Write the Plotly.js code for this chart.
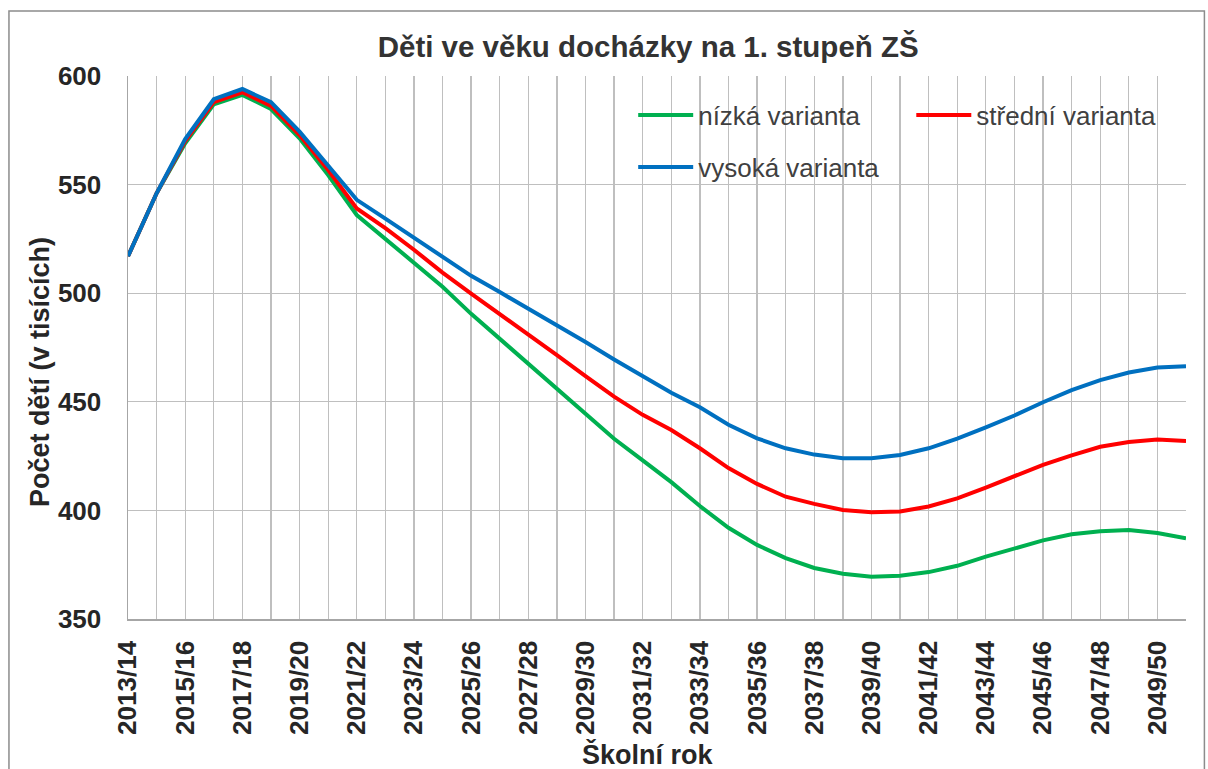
<!DOCTYPE html>
<html>
<head>
<meta charset="utf-8">
<script src="https://cdn.plot.ly/plotly-3.0.1.min.js"></script>
<style>
html,body{margin:0;padding:0;background:#fff;}
#chart{width:1208px;height:769px;}
</style>
</head>
<body>
<div id="chart"></div>
<script>
const categories = ["2013/14","2014/15","2015/16","2016/17","2017/18","2018/19","2019/20","2020/21","2021/22","2022/23","2023/24","2024/25","2025/26","2026/27","2027/28","2028/29","2029/30","2030/31","2031/32","2032/33","2033/34","2034/35","2035/36","2036/37","2037/38","2038/39","2039/40","2040/41","2041/42","2042/43","2043/44","2044/45","2045/46","2046/47","2047/48","2048/49","2049/50","2050/51"];

const nizka = [517,546,569,587,591.3,584.8,571.3,554.4,536,525,514,503,490.5,479,467.5,456,444.5,433,423,413,402,392,384.1,378,373.5,370.8,369.4,369.9,371.6,374.5,378.7,382.5,386.2,389,390.4,391,389.6,387.2];
const stredni = [517,546,570,588,592.5,586.2,572.8,556.7,539,530,520,509.5,499.8,490.5,480.8,471.5,461.8,452.4,444,437,428.6,419.5,412.2,406.3,403,400.2,399.1,399.5,401.8,405.5,410.5,415.9,421,425.3,429.3,431.5,432.6,432];
const vysoka = [517,546,571,589.3,594,588,574.4,559,543,534.3,525.5,516.5,508,500.5,493,485,477.5,469.5,461.6,454.2,447.5,439.4,433.2,428.6,425.7,424,424,425.5,428.6,433,438.2,443.7,449.8,455.4,460,463.5,465.8,466.4];

const seriesNames = ["nízká varianta","střední varianta","vysoká varianta"];
const seriesColors = ["#00B050","#FF0000","#0070C0"];
const legendIds = ["legend","legend2","legend3"];
const tickLabels = categories.map((c, i) => (i % 2 === 0 ? c : ""));
const yTicks = [350, 400, 450, 500, 550, 600];

const FONT = "Liberation Sans, Arial, sans-serif";
const data = [nizka, stredni, vysoka].map((vals, k) => ({
  type: "scatter",
  mode: "lines",
  x: categories,
  y: vals,
  name: seriesNames[k],
  legend: legendIds[k],
  line: {color: seriesColors[k], width: 4}
}));

const L = 128, R = 1185.6, T = 76, B = 619;
const W = 1208, H = 769;
const pw = R - L, ph = B - T;
const px = v => (v - L) / pw;
const py = v => (B - v) / ph;

const legendBase = {
  orientation: "v",
  xanchor: "left",
  yanchor: "middle",
  bgcolor: "rgba(0,0,0,0)",
  borderwidth: 0,
  itemwidth: 55,
  font: {family: FONT, size: 26, color: "#404040"},
  itemclick: false,
  itemdoubleclick: false
};

const layout = {
  width: W, height: H,
  margin: {l: L, r: W - R, t: T, b: H - B, pad: 0},
  paper_bgcolor: "#fff",
  plot_bgcolor: "#fff",
  showlegend: true,
  title: {
    text: "Děti ve věku docházky na 1. stupeň ZŠ",
    font: {family: FONT, size: 29.5, color: "#333333", weight: 700},
    x: px(648), xref: "paper", xanchor: "center",
    y: 1 - 47 / H, yref: "container", yanchor: "middle"
  },
  xaxis: {
    type: "category",
    range: [0, categories.length - 1],
    tickvals: categories,
    ticktext: tickLabels,
    tickangle: -90,
    tickfont: {family: FONT, size: 26, color: "#262626", weight: 700},
    ticks: "",
    ticklabelstandoff: 10,
    showgrid: true,
    gridcolor: "#BFBFBF",
    gridwidth: 1.3,
    showline: true,
    linecolor: "#A6A6A6",
    linewidth: 1.5,
    zeroline: false,
    fixedrange: true,
    automargin: false
  },
  yaxis: {
    range: [350, 600],
    tickvals: yTicks,
    tickfont: {family: FONT, size: 26, color: "#262626", weight: 700},
    ticks: "",
    ticklabelstandoff: 20,
    showgrid: true,
    gridcolor: "#BFBFBF",
    gridwidth: 1.3,
    showline: true,
    linecolor: "#A6A6A6",
    linewidth: 1.5,
    zeroline: false,
    fixedrange: true,
    automargin: false
  },
  legend: Object.assign({}, legendBase, {x: px(633), y: py(115)}),
  legend2: Object.assign({}, legendBase, {x: px(911), y: py(115)}),
  legend3: Object.assign({}, legendBase, {x: px(633), y: py(167)}),
  annotations: [
    {
      text: "Počet dětí (v tisících)",
      xref: "paper", yref: "paper",
      x: px(40), y: py(372), xanchor: "center", yanchor: "middle",
      textangle: -90, showarrow: false,
      font: {family: FONT, size: 27, color: "#262626", weight: 700}
    },
    {
      text: "Školní rok",
      xref: "paper", yref: "paper",
      x: px(648), y: py(754), xanchor: "center", yanchor: "middle",
      showarrow: false,
      font: {family: FONT, size: 27, color: "#262626", weight: 700}
    }
  ],
  shapes: [
    {
      type: "rect", xref: "paper", yref: "paper",
      x0: px(9), x1: px(1204), y0: py(790), y1: py(11),
      line: {color: "#8C8C8C", width: 1.5},
      fillcolor: "rgba(0,0,0,0)",
      layer: "below"
    },
    {
      type: "rect", xref: "paper", yref: "paper",
      x0: px(617), x1: px(1183), y0: py(189), y1: py(92),
      line: {width: 0},
      fillcolor: "#ffffff",
      layer: "between"
    }
  ]
};

Plotly.newPlot("chart", data, layout, {displayModeBar: false, staticPlot: true});
</script>
</body>
</html>
